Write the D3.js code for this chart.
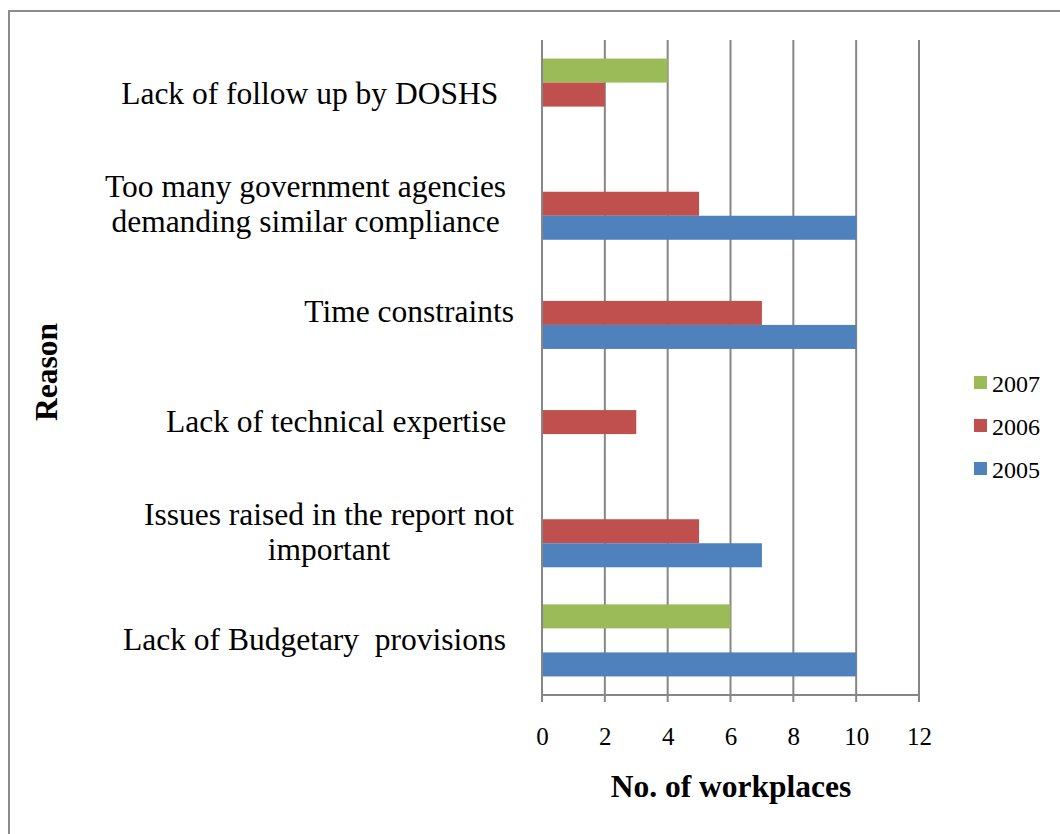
<!DOCTYPE html>
<html>
<head>
<meta charset="utf-8">
<script src="https://cdn.jsdelivr.net/npm/d3@7"></script>
<style>
  html, body { margin: 0; padding: 0; background: #fff; }
  svg { display: block; }
  text { font-family: "Liberation Serif", "Times New Roman", serif; white-space: pre; }
</style>
</head>
<body>
<svg id="chart" width="1060" height="834"></svg>
<script>
// ---- Data ----
const categories = [
  ["Lack of follow up by DOSHS  "],
  ["Too many government agencies ", "demanding similar compliance "],
  ["Time constraints"],
  ["Lack of technical expertise "],
  ["Issues raised in the report not", "important"],
  ["Lack of Budgetary  provisions "]
];
const seriesNames = ["2007", "2006", "2005"];
const values2007 = [4, 0, 0, 0, 0, 6];
const values2006 = [2, 5, 7, 3, 5, 0];
const values2005 = [0, 10, 10, 0, 7, 10];
const xTicks = [0, 2, 4, 6, 8, 10, 12];
const colors = { "2007": "#9BBB59", "2006": "#C0504D", "2005": "#4F81BD" };

const seriesValues = { "2007": values2007, "2006": values2006, "2005": values2005 };

const svg = d3.select("#chart");

// frame
svg.append("rect").attr("x", 9).attr("y", 11).attr("width", 1100).attr("height", 900)
  .attr("fill", "none").attr("stroke", "#8c8c8c").attr("stroke-width", 2);

const plot = { left: 542, right: 919, top: 40, bottom: 695 };

const x = d3.scaleLinear().domain([0, 12]).range([plot.left, plot.right]);
const y = d3.scaleBand().domain(d3.range(categories.length)).range([plot.top, plot.bottom]);
const bw = y.bandwidth();
const groupH = bw * 0.66;
const ySub = d3.scaleBand().domain(seriesNames)
  .range([(bw - groupH) / 2, (bw + groupH) / 2]);

// grid lines
svg.append("g").selectAll("line").data(xTicks).join("line")
  .attr("x1", d => x(d)).attr("x2", d => x(d))
  .attr("y1", plot.top).attr("y2", plot.bottom + 7)
  .attr("stroke", "#868686").attr("stroke-width", 2);

// bottom axis line
svg.append("line").attr("x1", plot.left).attr("x2", plot.right)
  .attr("y1", plot.bottom).attr("y2", plot.bottom)
  .attr("stroke", "#868686").attr("stroke-width", 2);

// bars
const groups = svg.append("g").selectAll("g").data(categories.map((c, i) => i)).join("g")
  .attr("transform", i => `translate(0,${y(i)})`);
groups.selectAll("rect").data(i => seriesNames.map(s => ({ s, v: seriesValues[s][i] })).filter(d => d.v > 0))
  .join("rect")
  .attr("x", x(0) + 1)
  .attr("y", d => ySub(d.s))
  .attr("width", d => x(d.v) - x(0) - 1)
  .attr("height", ySub.bandwidth())
  .attr("fill", d => colors[d.s]);

// x tick labels
const axis = d3.axisBottom(x).tickValues(xTicks).tickSize(0).tickPadding(0).tickFormat(d3.format("d"));
const ax = svg.append("g").attr("transform", `translate(0,${plot.bottom})`).call(axis);
ax.select(".domain").remove();
ax.selectAll("text").attr("y", 50).attr("dy", null)
  .style("font-size", "25px").attr("fill", "#000")
  .style("font-family", '"Liberation Serif", serif');

// category labels
const labelRight = 514;
const lineH = 35;
categories.forEach((lines, i) => {
  const cy = y(i) + bw / 2;
  const g = svg.append("g");
  const off = lines.length === 1 ? 9.5 : 11;
  const texts = lines.map((ln, j) => g.append("text")
    .attr("y", cy + off + (j - (lines.length - 1) / 2) * lineH)
    .style("font-size", "31.5px").attr("fill", "#000").text(ln));
  if (lines.length === 1) {
    texts[0].attr("x", labelRight).attr("text-anchor", "end");
  } else {
    const w = d3.max(texts, t => t.node().getComputedTextLength());
    texts.forEach(t => t.attr("x", labelRight - w / 2).attr("text-anchor", "middle"));
  }
});

// axis titles
svg.append("text").attr("x", 731).attr("y", 797).attr("text-anchor", "middle")
  .style("font-size", "31.5px").style("font-weight", "bold").text("No. of workplaces");
svg.append("text").attr("transform", "translate(57,372) rotate(-90)").attr("text-anchor", "middle")
  .style("font-size", "31.5px").style("font-weight", "bold").text("Reason");

// legend
const legend = svg.append("g").selectAll("g").data(seriesNames).join("g")
  .attr("transform", (d, i) => `translate(974,${376 + i * 43})`);
legend.append("rect").attr("width", 13).attr("height", 13).attr("fill", d => colors[d]);
legend.append("text").attr("x", 18).attr("y", 16).style("font-size", "24px").text(d => d);
</script>
</body>
</html>
